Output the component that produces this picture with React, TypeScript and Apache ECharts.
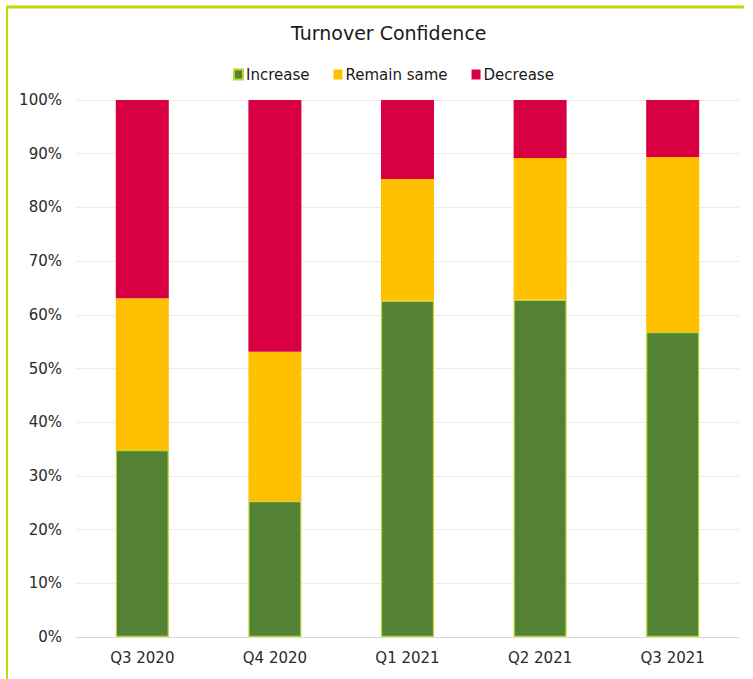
import React, { useEffect, useRef } from "react";
import * as echarts from "echarts";

const categories = ["Q3 2020", "Q4 2020", "Q1 2021", "Q2 2021", "Q3 2021"];
const increase = [34.8, 25.3, 62.6, 62.8, 56.8];
const remainSame = [28.3, 27.8, 22.7, 26.4, 32.6];
const decrease = [36.9, 46.9, 14.7, 10.8, 10.6];

export default function App() {
  const ref = useRef<HTMLDivElement>(null);
  useEffect(() => {
    document.body.style.margin = "0";
    const chart = echarts.init(ref.current!, null, { renderer: "svg" });
    const font = "DejaVu Sans";
    chart.setOption({
      animation: false,
      backgroundColor: "#ffffff",
      textStyle: { fontFamily: font },
      title: {
        text: "Turnover Confidence",
        left: 286,
        top: 18,
        textStyle: { fontFamily: font, fontSize: 19, fontWeight: "normal", color: "#1a1a1a" },
      },
      legend: {
        top: 62,
        left: 228,
        itemWidth: 9,
        itemHeight: 10,
        itemGap: 24,
        icon: "rect",
        textStyle: { fontFamily: font, fontSize: 15, color: "#1a1a1a", padding: [0, 0, 0, -2] },
        data: ["Increase", "Remain same", "Decrease"],
      },
      grid: { left: 76, right: 14, top: 100, bottom: 42, containLabel: false },
      xAxis: {
        type: "category",
        data: categories,
        axisTick: { show: false },
        axisLine: { lineStyle: { color: "#d9d9d9" } },
        axisLabel: { fontFamily: font, fontSize: 15, color: "#2a2a2a", margin: 13 },
      },
      yAxis: {
        type: "value",
        min: 0,
        max: 100,
        interval: 10,
        axisLabel: { formatter: "{value}%", fontFamily: font, fontSize: 15, color: "#2a2a2a", margin: 14 },
        splitLine: { lineStyle: { color: "#ececec" } },
        axisLine: { show: false },
        axisTick: { show: false },
      },
      series: [
        {
          name: "Increase",
          type: "bar",
          stack: "a",
          barWidth: 53,
          data: increase,
          itemStyle: { color: "#548235", borderColor: "#b9d62e", borderWidth: 1.2 },
        },
        {
          name: "Remain same",
          type: "bar",
          stack: "a",
          barWidth: 53,
          data: remainSame,
          itemStyle: { color: "#FFC000" },
        },
        {
          name: "Decrease",
          type: "bar",
          stack: "a",
          barWidth: 53,
          data: decrease,
          itemStyle: { color: "#D80042" },
        },
      ],
      graphic: [
        { type: "line", shape: { x1: 6, y1: 7, x2: 744, y2: 7 }, style: { stroke: "#c3d800", lineWidth: 3 } },
        { type: "line", shape: { x1: 7, y1: 6, x2: 7, y2: 679 }, style: { stroke: "#c3d800", lineWidth: 2 } },
      ],
    });
    return () => chart.dispose();
  }, []);
  return <div ref={ref} style={{ width: 753, height: 679, position: "absolute", left: 0, top: 0 }} />;
}
